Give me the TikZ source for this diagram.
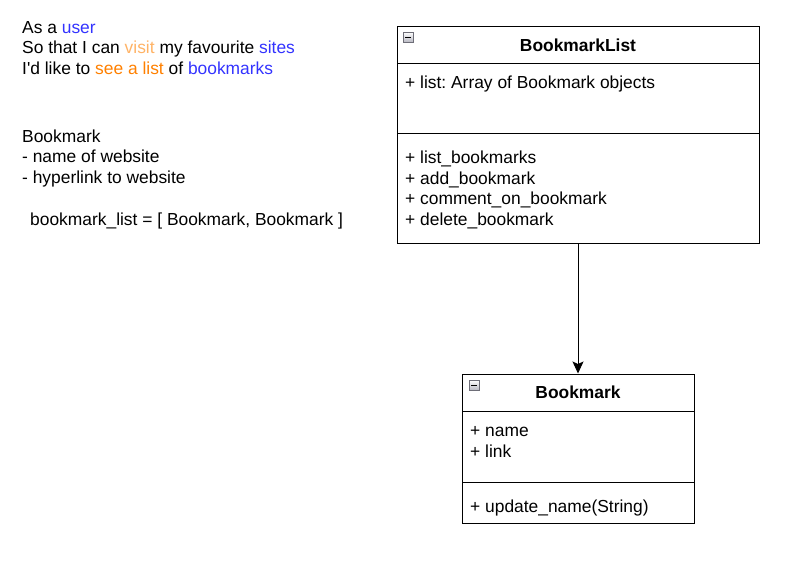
\documentclass[tikz,border=0pt]{standalone}
\usepackage{fontspec}
\setmainfont{Liberation Sans}
\usetikzlibrary{arrows.meta}
\definecolor{storyblue}{RGB}{51,51,255}
\definecolor{lightorange}{RGB}{255,179,102}
\definecolor{storyorange}{RGB}{255,128,0}
\definecolor{iconfill}{RGB}{185,185,195}
\definecolor{icongray}{RGB}{110,110,120}
\frenchspacing

\begin{document}
\begin{tikzpicture}[x=1pt, y=-1pt,
txt/.style = {anchor=base west, inner sep=0, align=left, font=\fontsize{17.4}{20.5}\selectfont},
title/.style = {anchor=base, inner sep=0, font=\fontsize{17.4}{20.5}\selectfont\bfseries},
umlbox/.style = {rectangle, draw=black, line width=1pt, inner sep=0, fill=white},
icon/.style = {rectangle, draw=icongray, line width=0.7pt, top color=white, bottom color=iconfill,
  minimum width=10pt, minimum height=10pt, inner sep=0}]
\useasboundingbox (0,0) rectangle (786,566);
% user story (multi-line nodes sit on their last baseline)
\node[txt] at (22,74) (story) {As a \textcolor{storyblue}{user}\\
So that I can \textcolor{lightorange}{visit} my favourite \textcolor{storyblue}{sites}\\
I\textquotesingle d like to \textcolor{storyorange}{see a list} of \textcolor{storyblue}{bookmarks}};
\node[txt] at (22,183) (notes) {Bookmark\\- name of website\\- hyperlink to website};
\node[txt] at (30,225) (listdef) {bookmark\_list = [ Bookmark, Bookmark ]};
% class BookmarkList
\node[umlbox, minimum width=362pt, minimum height=217pt] at (578,134.5) (blist) {};
\draw[line width=1pt] (397,63) -- (759,63);
\draw[line width=1pt] (397,133) -- (759,133);
\node[icon] at (408,37) (blisticon) {};
\draw[line width=1.4pt] (405,37.5) -- (411,37.5);
\node[title] at (578,51) (blisttitle) {BookmarkList};
\node[txt] at (405,88) (blistattr) {+ list: Array of Bookmark objects};
\node[txt] at (405,225) (blistops) {+ list\_bookmarks\\+ add\_bookmark\\+ comment\_on\_bookmark\\+ delete\_bookmark};
% class Bookmark
\node[umlbox, minimum width=232pt, minimum height=149pt] at (578,448.5) (bm) {};
\draw[line width=1pt] (462,411) -- (694,411);
\draw[line width=1pt] (462,482) -- (694,482);
\node[icon] at (474,385) (bmicon) {};
\draw[line width=1.4pt] (471,385.5) -- (477,385.5);
\node[title] at (578,398) (bmtitle) {Bookmark};
\node[txt] at (470,457) (bmattr) {+ name\\+ link};
\node[txt] at (470,512) (bmops) {+ update\_name(String)};
% association
\draw[-{Stealth[length=12pt, width=11pt, inset=2.5pt]}, line width=1pt] (blist.south) -- (bm.north);
\end{tikzpicture}
\end{document}
